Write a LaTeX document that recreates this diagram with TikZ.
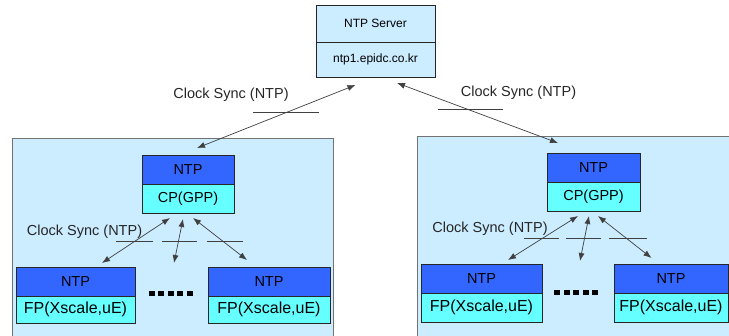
\documentclass[tikz,border=0pt]{standalone}
\usepackage{fontspec}
\setmainfont{Liberation Sans}
\usetikzlibrary{positioning,calc,arrows.meta}
\definecolor{panelblue}{RGB}{204,236,255}
\definecolor{ntpblue}{RGB}{51,102,255}
\definecolor{procyan}{RGB}{102,255,255}
\tikzset{
  panel/.style={draw=black!55,fill=panelblue,line width=1pt},
  part/.style={draw=black!85,line width=0.8pt,inner sep=0pt,outer sep=0pt,
    font=\fontsize{14.5}{16}\selectfont},
  hdr/.style={part,fill=ntpblue,minimum height=29},
  cpu/.style={part,fill=procyan,minimum height=29},
  fpu/.style={cpu,font=\fontsize{16}{18}\selectfont},
  srv/.style={part,fill=panelblue,font=\fontsize{12}{14}\selectfont},
  lbl/.style={inner sep=0pt,text=black!85,font=\fontsize{14.5}{16}\selectfont},
  sync/.style={{Latex[length=8pt,width=6pt]}-{Latex[length=8pt,width=6pt]},
    draw=black!75,line width=0.7pt},
  rule/.style={draw=black!75,line width=0.7pt}
}
\begin{document}
\begin{tikzpicture}[x=1pt,y=-1pt]
\useasboundingbox (0,0) rectangle (729,336);
\clip (0,0) rectangle (729,336);
% panels
\draw[panel] (12,139) rectangle (333,345);
\draw[panel] (417,137) rectangle (740,345);
% server
\node[srv,minimum width=119,minimum height=37] (srv) at (375.5,23.5) {NTP Server};
\node[srv,minimum width=119,minimum height=35,below=0pt of srv] (srvaddr) {ntp1.epidc.co.kr};
% left group
\node[hdr,minimum width=92] (cpLtop) at (188,169.5) {NTP};
\node[cpu,minimum width=92,below=0pt of cpLtop] (cpL) {CP(GPP)};
\node[hdr,minimum width=119] (fpLatop) at (75.5,281.5) {NTP};
\node[fpu,minimum width=119,minimum height=27,below=0pt of fpLatop] (fpLa) {FP(Xscale,uE)};
\node[hdr,minimum width=122] (fpLbtop) at (269,281.5) {NTP};
\node[fpu,minimum width=122,minimum height=27,below=0pt of fpLbtop] (fpLb) {FP(Xscale,uE)};
% right group
\node[hdr,minimum width=93] (cpRtop) at (593.5,167.5) {NTP};
\node[cpu,minimum width=93,below=0pt of cpRtop] (cpR) {CP(GPP)};
\node[hdr,minimum width=121] (fpRatop) at (481.5,278.5) {NTP};
\node[fpu,minimum width=121,below=0pt of fpRatop] (fpRa) {FP(Xscale,uE)};
\node[hdr,minimum width=114] (fpRbtop) at (671,278.5) {NTP};
\node[fpu,minimum width=114,below=0pt of fpRbtop] (fpRb) {FP(Xscale,uE)};
% dots
\foreach \i in {0,...,4} {
  \fill (148.5+9.5*\i,291.5) rectangle ++(6,5);
  \fill (554+9.5*\i,290.5) rectangle ++(6,5);
}
\coordinate (midL) at (174,263);
\coordinate (midR) at (580,261);
% labels
\node[lbl] (syncTL) at (231,95) {Clock Sync (NTP)};
\node[lbl] (syncTR) at (518.5,93) {Clock Sync (NTP)};
\node[lbl] (syncL) at (84.5,232) {Clock Sync (NTP)};
\node[lbl] (syncR) at (490,229) {Clock Sync (NTP)};
\draw[rule] (253,112) -- (319,112);
\draw[rule] (438,109) -- (503,109);
\draw[rule] (116,241) -- (153,241) (162,241) -- (197,241) (207,241) -- (243,241);
\draw[rule] (524,238) -- (559,238) (566,238) -- (601,238) (609,238) -- (647,238);
% connectors
\draw[sync] ($(srvaddr.south)+(-20,8)$) -- ($(cpLtop.north)+(9,-7)$);
\draw[sync] ($(srvaddr.south)+(21.5,6)$) -- ($(cpRtop.north)+(-35.5,-10)$);
\draw[sync] ($(cpL.south)+(-18,5)$) -- ($(fpLatop.north)+(26.5,-4)$);
\draw[sync] ($(cpL.south)+(-5,6)$) -- (midL);
\draw[sync] ($(cpL.south)+(5,5)$) -- ($(fpLbtop.north)+(-22,-7)$);
\draw[sync] ($(cpR.south)+(-15.5,5)$) -- ($(fpRatop.north)+(26.5,-4)$);
\draw[sync] ($(cpR.south)+(-4.5,5)$) -- (midR);
\draw[sync] ($(cpR.south)+(4.5,5)$) -- ($(fpRbtop.north)+(-19.5,-6)$);
\end{tikzpicture}
\end{document}
